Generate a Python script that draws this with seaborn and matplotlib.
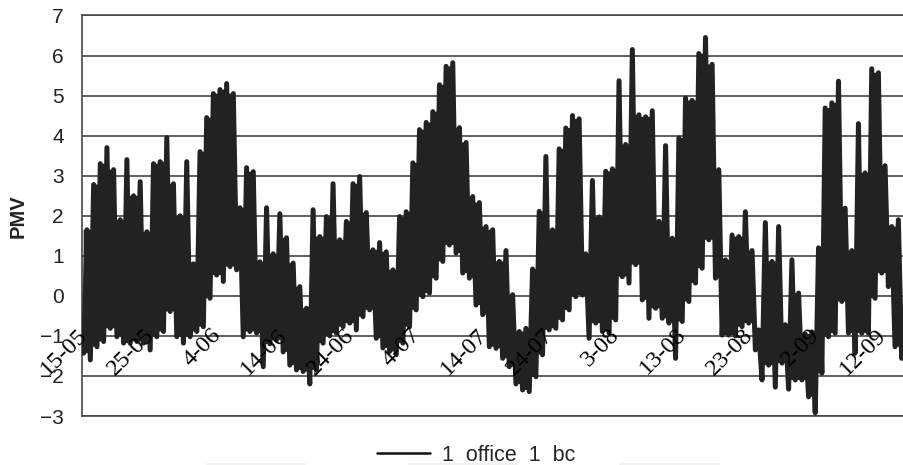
import numpy as np
import pandas as pd
import matplotlib
matplotlib.use("Agg")
import matplotlib.pyplot as plt
from matplotlib.patches import Rectangle
from matplotlib.transforms import ScaledTranslation
import seaborn as sns

series_name = "1  office  1  bc"
tick_labels = ["15-05", "25-05", "4-06", "14-06", "24-06", "4-07", "14-07",
               "24-07", "3-08", "13-08", "23-08", "2-09", "12-09"]
y_ticks = [-3, -2, -1, 0, 1, 2, 3, 4, 5, 6, 7]

daily_high = [1.65, 2.78, 3.3, 3.7, 3.15, 1.9, 3.4, 2.5, 2.85, 1.6, 3.3, 3.35, 3.95, 2.8, 2.0, 3.35,
              0.8, 3.6, 4.45, 5.05, 5.15, 5.3, 5.05, 2.2, 3.2, 3.1, 0.85, 2.2, 1.05, 2.05, 1.45,
              0.82, 0.23, -0.31, 2.15, 1.48, 1.98, 2.8, 1.4, 1.86, 2.8, 2.98, 2.08, 1.15, 1.33, 1.1, 0.65,
              1.98, 2.1, 3.32, 4.15, 4.33, 4.6, 5.27, 5.73, 5.82, 4.2, 3.83, 2.48, 2.33, 1.73, 1.65,
              0.86, 1.13, 0.03, -0.89, -0.81, 0.67, 2.11, 3.48, 1.65, 3.67, 4.19, 4.5, 4.42, 1.05, 2.88,
              1.97, 3.11, 3.17, 5.37, 3.78, 6.15, 4.52, 4.47, 4.62, 1.86, 3.75, 1.44, 3.94, 4.94, 4.88, 6.05,
              6.45, 5.78, 3.15, 0.9, 1.52, 1.48, 2.1, 1.13, -0.85, 1.83, 0.86, 1.73, -0.72, 0.9, 0.07, -0.95,
              -0.9, 1.2, 4.69, 4.82, 5.36, 2.19, 1.13, 4.3, 3.07, 5.67, 5.57, 3.25, 1.73, 1.9, -0.3]

daily_low = [-1.43, -1.6, -1.27, -1.14, -0.81, -1.02, -1.18, -1.18, -1.14, -1.18, -1.35, -1.02, -0.89, -0.39,
             -1.02, -1.18, -1.02, -0.89, -0.77, -0.06, 0.52, 0.36, 0.73, 0.65, -1.02, -0.89, -0.93, -1.77, -1.2,
             -1.1, -1.4,
             -1.73, -1.85, -1.89, -2.2, -1.85, -1.18, -1.0, -0.93, -0.77, -0.68, -0.85, -0.52, -0.35, -1.06, -1.3,
             -1.39, -1.47, -1.18, -0.77, -0.35, -0.02, 0.07, 0.44, 0.86, 1.27, 1.07, 0.57, 0.44, -0.23, -0.47, -1.27,
             -1.31, -1.56, -1.77, -2.2, -2.35, -2.39, -2.02, -1.47, -0.85, -0.81, -0.6, -0.35, -0.02, 0.02, -1.06,
             -0.68, -0.89, -0.93, -0.6, 0.48, 0.32, 0.78, -0.1, -0.56, -0.31, -0.56, -0.68, -1.56, -0.64, -0.14, 0.32,
             0.69, 1.4, 0.44, -0.98, -0.98, -1.0, -0.77, -0.68, -1.35, -2.1, -1.73, -2.28, -1.68, -2.33, -2.1, -2.1,
             -2.52, -2.92, -1.93, -1.02, -0.93, -0.14, -0.93, -1.43, -0.93, -0.93, -0.06, 0.57, 0.23, -1.27, -1.56]

sns.set_theme(style="white")
plt.rcParams["font.family"] = ["Liberation Sans", "DejaVu Sans"]

days = np.arange(len(daily_high))
high = np.array(daily_high)
low = np.array(daily_low)
df = pd.DataFrame({
    "day": np.concatenate([days + 0.25, days + 0.75]),
    "PMV": np.concatenate([low, high]),
}).sort_values("day")

W, H = 904, 465
fig = plt.figure(figsize=(W / 100, H / 100), dpi=100)
ax = fig.add_axes([82 / W, 1 - 416 / H, (W - 82) / W, (416 - 15.5) / H])

# the hourly trace overplots solidly between neighbouring daily extremes
grid = np.linspace(0.25, days[-1] + 0.75, 4000)
top = np.minimum(high[:-1], high[1:])
bottom = np.maximum(low[:-1], low[1:])
upper = top[np.clip(np.floor(grid - 0.75).astype(int), 0, len(top) - 1)]
lower = bottom[np.clip(np.floor(grid - 0.25).astype(int), 0, len(bottom) - 1)]
ax.fill_between(grid, lower, upper, where=upper > lower, color="#222222", linewidth=0, zorder=2)

sns.lineplot(data=df, x="day", y="PMV", ax=ax, estimator=None, sort=False, color="#222222",
             linewidth=3.6, label=series_name, solid_joinstyle="round", solid_capstyle="round", zorder=3)

ax.set_xlim(0, 123.6)
ax.set_ylim(-3, 7)
ax.set_yticks(y_ticks)
ax.set_yticklabels([str(v).replace("-", "\u2212") for v in y_ticks], fontsize=15, color="#222222")
ax.tick_params(axis="y", length=0, pad=13)
ax.yaxis.grid(True, color="#444444", linewidth=1.2)
ax.xaxis.grid(False)
ax.set_axisbelow(True)

ax.set_xticks(np.arange(len(tick_labels)) * 10)
ax.set_xticklabels(tick_labels, rotation=45, ha="right", va="top", rotation_mode="anchor",
                   fontsize=17.5, family="Liberation Serif", color="#000000")
ax.tick_params(axis="x", length=0, pad=-66)
ax.xaxis.set_zorder(5)
shift = ScaledTranslation(-5 / 100, 0, fig.dpi_scale_trans)
for lab in ax.get_xticklabels():
    lab.set_transform(lab.get_transform() + shift)

ax.set_xlabel("")
ax.set_ylabel("PMV", fontsize=14.5, fontweight="bold", color="#222222", labelpad=9)

for s in ["top", "right"]:
    ax.spines[s].set_visible(False)
for s in ["left", "bottom"]:
    ax.spines[s].set_color("#444444")
    ax.spines[s].set_linewidth(1.2)
ax.axhline(7, color="#444444", lw=1.2, clip_on=False)

ax.get_legend().remove()
handles, labels = ax.get_legend_handles_labels()
leg = fig.legend(handles, labels, loc="center", bbox_to_anchor=(476 / W, 1 - 455 / H), frameon=False,
                 fontsize=15.5, handlelength=2.46, handletextpad=0.55, borderpad=0)
leg.get_lines()[0].set_linewidth(1.8)
leg.get_lines()[0].set_color("#111111")

for x0, x1 in [(206, 306), (408, 518), (619, 720)]:
    fig.add_artist(Rectangle((x0 / W, 0), (x1 - x0) / W, 2.5 / H, transform=fig.transFigure,
                             facecolor="#f2f2f2", edgecolor="none"))

fig.savefig("out.png", dpi=100)
